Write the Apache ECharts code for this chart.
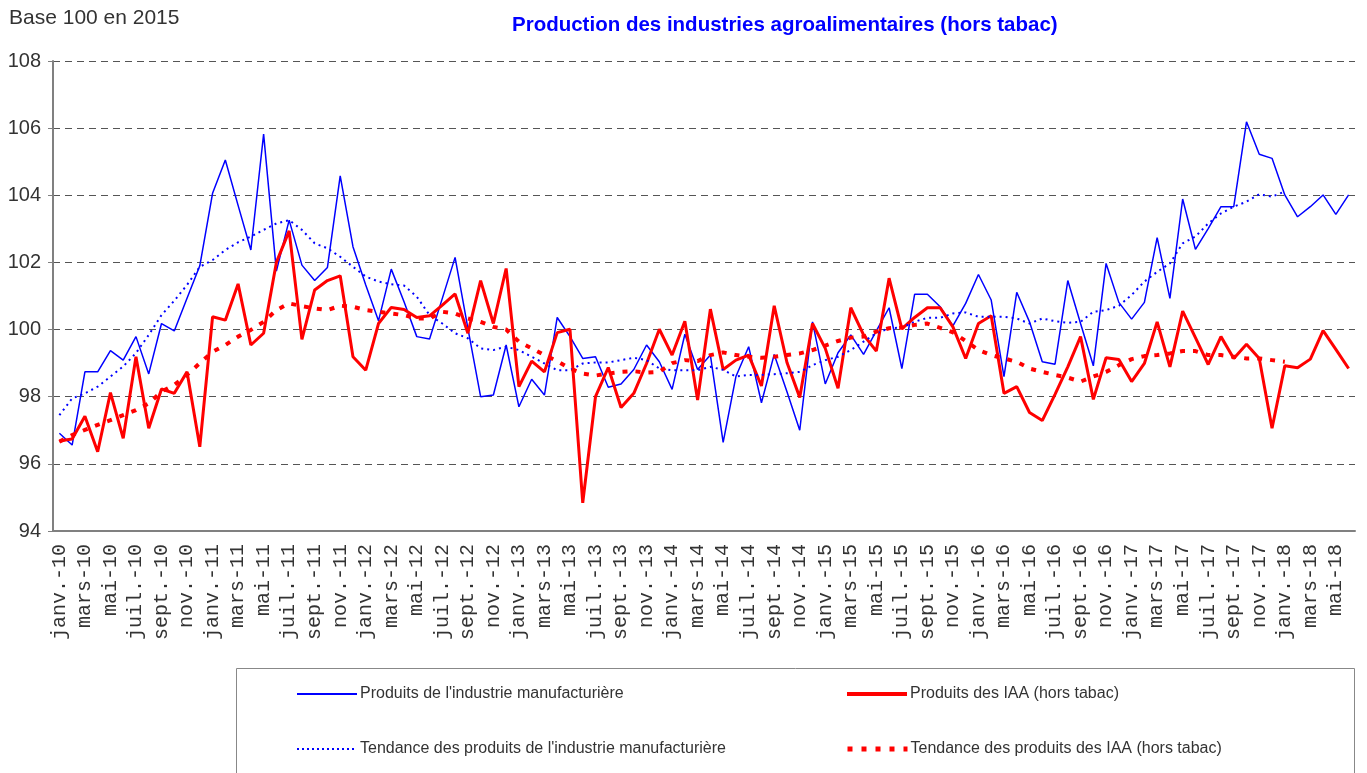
<!DOCTYPE html>
<html>
<head>
<meta charset="utf-8">
<script src="https://cdn.jsdelivr.net/npm/echarts@6/dist/echarts.min.js"></script>
<style>
    html, body { margin: 0; padding: 0; background: #fff; }
    #chart { width: 1367px; height: 773px; }
</style>
</head>
<body>
<div id="chart"></div>
<script>
// mois et annees de l'axe des abscisses
var moisNoms = ['janv.', 'févr.', 'mars', 'avr.', 'mai', 'juin', 'juil.', 'août', 'sept.', 'oct.', 'nov.', 'déc.'];
var annees = ['10', '11', '12', '13', '14', '15', '16', '17', '18'];
var nbMois = 102;   // janv.-10 -> juin-18

var yTicks = { min: 94, max: 108, interval: 2 };

// Produits de l'industrie manufacturiere
var manuf = [
    96.91, 96.56, 98.74, 98.74, 99.37, 99.09, 99.79, 98.68, 100.18, 99.96, 100.93, 101.90,
    104.06, 105.05, 103.70, 102.37, 105.82, 101.74, 103.26, 101.92, 101.46, 101.85, 104.58, 102.47,
    101.33, 100.26, 101.80, 100.83, 99.79, 99.72, 100.93, 102.15, 100.04, 98.00, 98.05, 99.54,
    97.70, 98.52, 98.05, 100.36, 99.79, 99.14, 99.19, 98.28, 98.38, 98.81, 99.54, 99.04,
    98.22, 99.86, 98.81, 99.24, 96.64, 98.60, 99.49, 97.82, 99.26, 98.15, 97.00, 100.23,
    98.38, 99.31, 99.84, 99.26, 99.96, 100.65, 98.84, 101.05, 101.05, 100.68, 100.11, 100.78,
    101.64, 100.88, 98.60, 101.11, 100.23, 99.04, 98.97, 101.46, 100.18, 98.92, 101.97, 100.81,
    100.31, 100.81, 102.74, 100.93, 103.89, 102.39, 103.01, 103.66, 103.66, 106.19, 105.22, 105.10,
    104.01, 103.36, 103.66, 104.01, 103.43, 104.01
];

// Produits des IAA (hors tabac)
var iaa = [
    96.68, 96.74, 97.42, 96.36, 98.12, 96.76, 99.19, 97.06, 98.23, 98.10, 98.74, 96.51,
    100.38, 100.28, 101.36, 99.54, 99.89, 102.00, 102.94, 99.71, 101.18, 101.46, 101.60, 99.19,
    98.79, 100.18, 100.66, 100.60, 100.36, 100.41, 100.73, 101.06, 99.89, 101.46, 100.18, 101.82,
    98.30, 99.06, 98.74, 99.91, 100.01, 94.84, 98.00, 98.87, 97.68, 98.10, 98.99, 100.01,
    99.24, 100.25, 97.90, 100.61, 98.81, 99.09, 99.24, 98.32, 100.71, 99.02, 97.98, 100.18,
    99.44, 98.25, 100.65, 99.84, 99.36, 101.53, 100.02, 100.36, 100.65, 100.65, 100.08, 99.14,
    100.18, 100.41, 98.10, 98.30, 97.53, 97.29, 98.07, 98.89, 99.79, 97.92, 99.16, 99.11,
    98.45, 98.99, 100.23, 98.89, 100.55, 99.76, 98.96, 99.79, 99.14, 99.56, 99.14, 97.06,
    98.92, 98.86, 99.12, 99.97, 99.41, 98.84
];

// Tendance des produits de l'industrie manufacturiere
var tendManuf = [
    97.45, 97.95, 98.10, 98.30, 98.60, 98.90, 99.30, 99.84, 100.43, 100.86, 101.33, 101.87,
    102.07, 102.37, 102.60, 102.77, 102.97, 103.16, 103.26, 102.97, 102.57, 102.42, 102.17, 101.87,
    101.58, 101.43, 101.35, 101.31, 100.98, 100.43, 100.18, 99.89, 99.74, 99.44, 99.39, 99.49,
    99.39, 99.19, 98.99, 98.79, 98.79, 98.99, 99.02, 99.02, 99.09, 99.16, 99.09, 98.84,
    98.79, 98.79, 98.79, 98.89, 98.80, 98.60, 98.65, 98.65, 98.67, 98.70, 98.74, 98.94,
    99.09, 99.19, 99.39, 99.64, 99.89, 100.04, 100.06, 100.23, 100.35, 100.35, 100.48, 100.51,
    100.38, 100.38, 100.38, 100.33, 100.18, 100.33, 100.25, 100.20, 100.23, 100.53, 100.58, 100.71,
    101.03, 101.43, 101.72, 101.97, 102.57, 102.77, 103.16, 103.46, 103.66, 103.81, 104.03, 103.96,
    104.11, null, null, null, null, null
];

// Tendance des produits des IAA (hors tabac)
var tendIaa = [
    96.66, 96.86, 97.01, 97.16, 97.30, 97.45, 97.60, 97.80, 98.15, 98.35, 98.65, 99.00,
    99.34, 99.54, 99.79, 99.99, 100.23, 100.58, 100.78, 100.70, 100.63, 100.58, 100.71, 100.68,
    100.58, 100.53, 100.48, 100.43, 100.33, 100.33, 100.53, 100.48, 100.33, 100.23, 100.08, 100.00,
    99.64, 99.44, 99.24, 99.06, 98.84, 98.69, 98.63, 98.69, 98.74, 98.76, 98.72, 98.74,
    99.00, 99.09, 99.06, 99.24, 99.32, 99.24, 99.19, 99.16, 99.19, 99.24, 99.29, 99.39,
    99.52, 99.66, 99.76, 99.79, 99.94, 100.04, 100.06, 100.14, 100.18, 100.05, 99.92, 99.66,
    99.39, 99.24, 99.14, 99.04, 98.84, 98.74, 98.65, 98.57, 98.45, 98.60, 98.74, 98.94,
    99.12, 99.21, 99.24, 99.29, 99.36, 99.36, 99.24, 99.24, 99.19, 99.14, 99.14, 99.09,
    99.04, null, null, null, null, null
];

var mois = [];
for (var i = 0; i < nbMois; i++) {
    mois.push(moisNoms[i % 12] + '-' + annees[Math.floor(i / 12)]);
}

var narrow = "'Liberation Sans Narrow', 'Arial Narrow', 'Liberation Sans', sans-serif";

var chart = echarts.init(document.getElementById('chart'));
var option = {
    animation: false,
    title: [
        {
            text: 'Production des industries agroalimentaires (hors tabac)',
            left: 507,
            top: 10,
            textStyle: { color: '#0000ff', fontFamily: narrow, fontWeight: 'bold', fontSize: 20.5 }
        },
        {
            text: 'Base 100 en 2015',
            left: 4,
            top: 3,
            textStyle: { color: '#333', fontFamily: narrow, fontWeight: 'normal', fontSize: 21 }
        }
    ],
    // legende : un composant par entree pour placer chaque element
    legend: [
        { data: ["Produits de l'industrie manufacturière"], left: 296, top: 686,
          lineStyle: { width: 2 } },
        { data: ['Produits des IAA (hors tabac)'], left: 845, top: 686,
          lineStyle: { width: 4 } },
        { data: ["Tendance des produits de l'industrie manufacturière"], left: 296, top: 741,
          lineStyle: { width: 2, type: [2, 3] } },
        { data: ['Tendance des produits des IAA (hors tabac)'], left: 845, top: 741,
          lineStyle: { width: 5, type: [5, 9] } }
    ].map(function (l) {
        l.itemWidth = 60;
        l.itemHeight = 14;
        l.padding = 0;
        l.itemGap = 0;
        l.selectedMode = false;
        l.itemStyle = { opacity: 0 };   // pas de rond, seulement le trait
        l.textStyle = { color: '#333', fontFamily: narrow, fontSize: 16, padding: [0, 0, 0, -2] };
        return l;
    }),
    graphic: [
        {
            type: 'rect',
            shape: { x: 236.5, y: 668.5, width: 1118, height: 130 },
            style: { fill: 'none', stroke: '#888', lineWidth: 1 },
            silent: true
        }
    ],
    grid: {
        left: 53,
        right: 12,
        top: 61,
        bottom: 242
    },
    xAxis: {
        type: 'category',
        data: mois,
        boundaryGap: true,
        axisLine: { lineStyle: { color: '#808080', width: 2 } },
        axisTick: {
            interval: 1,
            length: 5,
            lineStyle: { color: '#808080' }
        },
        axisLabel: {
            interval: 1,
            rotate: 90,
            margin: 13,
            color: '#333',
            fontFamily: "'Liberation Mono', monospace",
            fontSize: 20
        },
        splitLine: { show: false }
    },
    yAxis: {
        type: 'value',
        min: yTicks.min,
        max: yTicks.max,
        interval: yTicks.interval,
        axisLine: { show: true, lineStyle: { color: '#808080', width: 2 } },
        axisTick: { show: true, length: 5, lineStyle: { color: '#808080' } },
        axisLabel: {
            margin: 12,
            color: '#333',
            fontFamily: narrow,
            fontSize: 20
        },
        splitLine: {
            show: true,
            lineStyle: { color: '#555', width: 1, type: [7, 5] }
        }
    },
    series: [
        {
            name: "Produits de l'industrie manufacturière",
            type: 'line',
            data: manuf,
            symbol: 'none',
            lineStyle: { color: '#0000ff', width: 1.5 },
            itemStyle: { color: '#0000ff' }
        },
        {
            name: 'Produits des IAA (hors tabac)',
            type: 'line',
            data: iaa,
            symbol: 'none',
            lineStyle: { color: '#ff0000', width: 3 },
            itemStyle: { color: '#ff0000' }
        },
        {
            name: "Tendance des produits de l'industrie manufacturière",
            type: 'line',
            data: tendManuf,
            symbol: 'none',
            lineStyle: { color: '#0000ff', width: 2, type: [2, 4] },
            itemStyle: { color: '#0000ff' }
        },
        {
            name: 'Tendance des produits des IAA (hors tabac)',
            type: 'line',
            data: tendIaa,
            symbol: 'none',
            lineStyle: { color: '#ff0000', width: 4, type: [5, 8] },
            itemStyle: { color: '#ff0000' }
        }
    ]
};
chart.setOption(option);
</script>
</body>
</html>
